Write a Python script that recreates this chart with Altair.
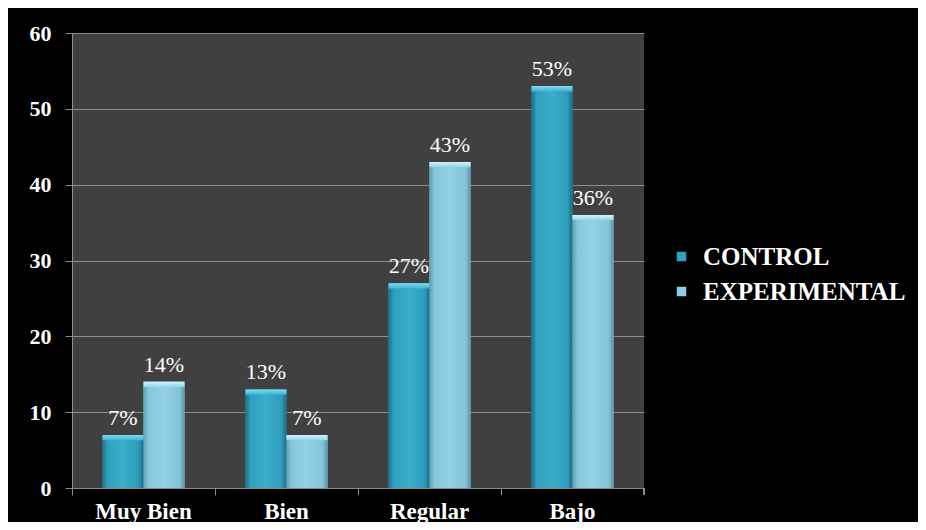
import altair as alt
import pandas as pd

categories = ["Muy Bien", "Bien", "Regular", "Bajo"]
series_names = ["CONTROL", "EXPERIMENTAL"]
control = [7, 13, 27, 53]
experimental = [14, 7, 43, 36]
y_ticks = [0, 10, 20, 30, 40, 50, 60]

rows = []
for c, v in zip(categories, control):
    rows.append({"cat": c, "serie": "CONTROL", "valor": v, "etiqueta": f"{v}%"})
for c, v in zip(categories, experimental):
    rows.append({"cat": c, "serie": "EXPERIMENTAL", "valor": v, "etiqueta": f"{v}%"})
df = pd.DataFrame(rows)

W, H = 572, 455
FONT = "Liberation Serif"

x_enc = alt.X("cat:N", sort=categories, title=None,
              scale=alt.Scale(paddingInner=0, paddingOuter=0),
              axis=alt.Axis(labelAngle=0, labelFontSize=23, labelFontWeight="bold",
                            labelColor="white", labelFont=FONT, labelPadding=5,
                            domainColor="#8c8c8c", tickColor="#8c8c8c", tickSize=7,
                            bandPosition=0, grid=False))
xoff_enc = alt.XOffset("serie:N", sort=series_names,
                       scale=alt.Scale(paddingOuter=0.744, paddingInner=0))
y_enc = alt.Y("valor:Q", title=None,
              scale=alt.Scale(domain=[0, 60], nice=False),
              axis=alt.Axis(values=y_ticks, labelFontSize=22, labelFontWeight="bold",
                            labelColor="white", labelFont=FONT, labelPadding=14,
                            domainColor="#8c8c8c", tickColor="#8c8c8c", tickSize=7,
                            gridColor="#8c8c8c", gridWidth=1))

base = alt.Chart(df).encode(x=x_enc, xOffset=xoff_enc, y=y_enc)

bars = base.mark_bar().encode(
    color=alt.Color("serie:N", sort=series_names,
                    scale=alt.Scale(domain=series_names, range=["#2fa2c0", "#8ccde3"]),
                    legend=alt.Legend(title=None, orient="none", legendX=597, legendY=211,
                                      symbolType="square", symbolSize=90,
                                      symbolStrokeWidth=0, labelLimit=400,
                                      labelFontSize=25, labelFontWeight="bold",
                                      labelColor="white", labelFont=FONT,
                                      labelOffset=9, rowPadding=9))
)

grad_control = alt.Gradient(
    gradient="linear", x1=0, x2=1, y1=0, y2=0,
    stops=[alt.GradientStop(color="#1c6f88", offset=0),
           alt.GradientStop(color="#2f9fbd", offset=0.12),
           alt.GradientStop(color="#3aaecb", offset=0.5),
           alt.GradientStop(color="#2e9bb9", offset=0.88),
           alt.GradientStop(color="#1b6a82", offset=1)])
grad_exp = alt.Gradient(
    gradient="linear", x1=0, x2=1, y1=0, y2=0,
    stops=[alt.GradientStop(color="#5f9fb4", offset=0),
           alt.GradientStop(color="#85c6dc", offset=0.12),
           alt.GradientStop(color="#92d2e7", offset=0.5),
           alt.GradientStop(color="#84c3d8", offset=0.88),
           alt.GradientStop(color="#5b97ab", offset=1)])

bars_c = base.mark_bar(color=grad_control).transform_filter(alt.datum.serie == "CONTROL")
bars_e = base.mark_bar(color=grad_exp).transform_filter(alt.datum.serie == "EXPERIMENTAL")

# light bevel cap at the top of each bar
cap_c = base.mark_bar(color=alt.Gradient(
    gradient="linear", x1=0, x2=0, y1=0, y2=1,
    stops=[alt.GradientStop(color="#7fdcf2", offset=0),
           alt.GradientStop(color="#3fb3d0", offset=1)])).transform_filter(
    alt.datum.serie == "CONTROL").transform_calculate(
    lo="datum.valor - 0.7").encode(y2="lo:Q")
cap_e = base.mark_bar(color=alt.Gradient(
    gradient="linear", x1=0, x2=0, y1=0, y2=1,
    stops=[alt.GradientStop(color="#d2f3fb", offset=0),
           alt.GradientStop(color="#93d3e8", offset=1)])).transform_filter(
    alt.datum.serie == "EXPERIMENTAL").transform_calculate(
    lo="datum.valor - 0.7").encode(y2="lo:Q")

labels = base.mark_text(baseline="alphabetic", dy=-10, fontSize=22, font=FONT,
                        color="white").encode(text="etiqueta:N")

end_tick = alt.Chart(df).mark_rule(color="#8c8c8c").encode(
    x=alt.value(W), y=alt.value(H), y2=alt.value(H + 7))

chart = alt.layer(bars, bars_c, bars_e, cap_c, cap_e, labels, end_tick).properties(
    width=W, height=H,
    autosize=alt.AutoSizeParams(type="none"),
    padding={"left": 64, "top": 25, "right": 274, "bottom": 34},
    background="black",
).configure_view(fill="#404040", stroke=None)

chart.save("out.html", embed_options={"renderer": "svg", "actions": False})
